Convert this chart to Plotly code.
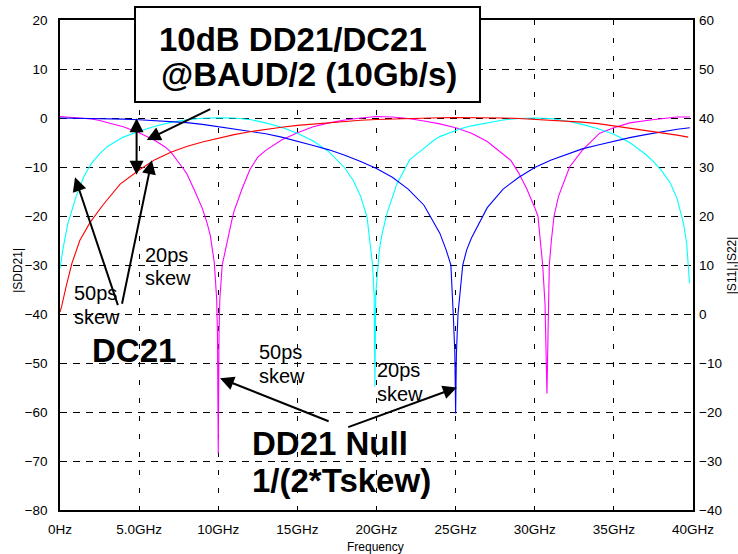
import plotly.graph_objects as go

# ---- data (dB vs GHz) ----
# DD21, 50 ps skew (magenta)
f_dd50 = [0, 1, 2, 2.5, 3, 4, 5, 6, 6.64, 7, 7.69, 8, 8.53, 9, 9.3, 9.5, 9.75, 9.9, 9.95, 10.0,
          10.05, 10.1, 10.25, 10.5, 10.85, 11, 11.5, 12, 12.5, 13, 13.5, 14, 15, 16, 17, 18, 19,
          20, 21, 22, 23, 24, 25, 26, 27, 28, 28.5, 29, 29.5, 30, 30.2, 30.5, 30.65, 30.77,
          30.85, 30.92, 31.05, 31.22, 31.5, 32.2, 33, 34.1, 35, 36, 37.3, 38, 39, 39.8]
v_dd50 = [0.3, 0.1, -0.2, -0.5, -0.9, -1.8, -3.0, -4.6, -5.9, -6.9, -9.9, -11.3, -15.0, -18.5, -21.5, -24.0, -29.5, -37.0, -44.0, -68.4,
          -44.0, -37.0, -30.0, -26.0, -21.0, -19.0, -14.5, -10.5, -8.0, -6.6, -5.5, -4.5, -3.0, -1.8, -1.0, -0.4, 0.0,
          0.3, 0.2, -0.1, -0.6, -1.2, -2.0, -3.1, -4.8, -7.3, -8.7, -11.3, -14.5, -18.3, -20.0, -30.0, -38.0, -56.2,
          -40.0, -30.0, -25.0, -20.0, -16.0, -10.0, -6.6, -3.1, -2.0, -1.0, -0.4, -0.1, 0.2, 0.2]

# DC21, 50 ps skew (cyan)
f_dc50 = [0, 0.2, 0.5, 1, 1.5, 2, 2.5, 3, 4, 5, 6, 7, 8, 9, 10, 11, 12, 12.64, 13, 14, 14.75, 15, 16,
          16.86, 17, 18, 18.54, 19, 19.4, 19.64, 19.75, 19.85, 19.9, 19.95, 20.1, 20.18, 20.33, 20.65,
          21.28, 22.1, 23, 23.6, 24, 25.3, 26, 26.5, 27, 28, 29, 30, 31, 32, 33, 34, 35, 36, 37, 37.5,
          38, 38.56, 39, 39.2, 39.4, 39.6, 39.78]
v_dc50 = [-30.7, -26.5, -21.5, -16.2, -12.0, -9.2, -7.3, -5.8, -3.9, -2.7, -1.7, -0.9, -0.35, -0.05, 0.05, 0.0, -0.3, -0.75, -1.0, -1.9, -2.8, -3.1, -4.7,
          -6.5, -6.9, -10.2, -12.8, -16.0, -20.2, -26.9, -30.0, -36.0, -54.8, -36.0, -30.0, -26.9, -24.0, -19.6,
          -13.5, -8.5, -6.2, -4.6, -3.8, -2.2, -1.6, -1.3, -0.9, -0.4, -0.1, 0.0, -0.1, -0.6, -1.3, -2.2, -3.3, -5.0, -7.4, -8.9,
          -10.7, -13.2, -16.5, -18.8, -21.5, -25.6, -33.7]

# DD21, 20 ps skew (blue)
f_dd20 = [0, 1, 2, 3, 4, 5, 6, 7, 8, 9, 10, 11, 12, 13, 14, 15, 16, 17, 18, 19, 20, 21, 22, 23, 24,
          24.4, 24.7, 24.85, 24.95, 25.0, 25.05, 25.15, 25.45, 25.7, 26, 27, 28, 29, 30, 31, 32, 33,
          34, 35, 36, 37, 38, 39, 39.8]
v_dd20 = [0.0, -0.02, -0.06, -0.12, -0.22, -0.35, -0.5, -0.7, -0.95, -1.3, -1.75, -2.2, -2.7, -3.2, -3.9, -4.7, -5.6, -6.5, -7.6, -8.9, -10.3, -12.1, -14.5, -17.8, -23.5,
          -26.9, -30.0, -40.0, -48.0, -60.3, -48.0, -40.0, -30.0, -26.9, -24.5, -18.3, -14.5, -12.1, -10.1, -8.6, -7.4, -6.3,
          -5.5, -4.7, -4.0, -3.4, -2.8, -2.3, -2.0]

# DC21, 20 ps skew (red)
f_dc20 = [0, 0.1, 0.4, 0.75, 1.25, 1.9, 2.75, 3.8, 5, 6, 7, 8, 9, 10, 11, 12, 13, 14, 15, 16, 17, 18,
          19, 20, 21, 22, 23, 24, 25, 26, 27, 28, 29, 30, 31, 32, 33, 34, 35, 36, 37, 38, 39, 39.7]
v_dc20 = [-39.6, -38.5, -34.2, -29.7, -25.0, -21.3, -17.6, -13.5, -10.6, -8.5, -7.0, -5.8, -4.9, -4.1, -3.4, -2.8, -2.3, -1.9, -1.5, -1.2, -0.9, -0.65,
          -0.45, -0.3, -0.18, -0.08, 0.0, 0.05, 0.1, 0.1, 0.05, 0.0, -0.1, -0.25, -0.4, -0.6, -0.85, -1.15, -1.6, -2.0, -2.5, -3.0, -3.5, -3.9]

x_tickvals = [0, 5, 10, 15, 20, 25, 30, 35, 40]
x_ticktext = ["0Hz", "5.0GHz", "10GHz", "15GHz", "20GHz", "25GHz", "30GHz", "35GHz", "40GHz"]
y_left_ticks = [20, 10, 0, -10, -20, -30, -40, -50, -60, -70, -80]
y_right_ticks = [60, 50, 40, 30, 20, 10, 0, -10, -20, -30, -40]

FONT = "Liberation Sans, Arial, sans-serif"

fig = go.Figure()
for fx, fy, col in [(f_dd50, v_dd50, "#ff00ff"), (f_dc50, v_dc50, "#00ffff"),
                    (f_dd20, v_dd20, "#0000ff"), (f_dc20, v_dc20, "#ff0000")]:
    fig.add_trace(go.Scatter(x=fx, y=fy, mode="lines", line=dict(color=col, width=1.1),
                             showlegend=False, hoverinfo="skip"))

# empty trace so the right-hand axis is drawn
fig.add_trace(go.Scatter(x=[None], y=[None], yaxis="y2", showlegend=False, hoverinfo="skip"))

fig.update_layout(
    width=738, height=554, autosize=False,
    margin=dict(l=60, r=45, t=20, b=44),
    paper_bgcolor="white", plot_bgcolor="white",
    font=dict(family=FONT, size=13.5, color="black"),
    xaxis=dict(range=[0, 40], tickvals=x_tickvals, ticktext=x_ticktext, automargin=False,
               showgrid=True, gridcolor="black", gridwidth=1, griddash="5px,13px",
               showline=True, linecolor="black", linewidth=1.5, mirror=True,
               zeroline=False, ticks="", ticklabelstandoff=6),
    yaxis=dict(range=[-80, 20], tickvals=y_left_ticks, automargin=False,
               showgrid=True, gridcolor="black", gridwidth=1, griddash="7px,6px",
               showline=True, linecolor="black", linewidth=1.5, mirror=True,
               zeroline=False, ticks="", ticklabelstandoff=8),
    yaxis2=dict(range=[-40, 60], tickvals=y_right_ticks, overlaying="y", side="right",
                automargin=False, showgrid=False, zeroline=False, showline=False,
                ticks="", ticklabelstandoff=5),
)

# axis titles
axis_font = dict(family=FONT, size=12, color="black")
fig.add_annotation(text="Frequency", xref="paper", yref="paper", x=0.499, y=-0.0755,
                   xanchor="center", yanchor="middle", showarrow=False, font=axis_font)
fig.add_annotation(text="|SDD21|", xref="paper", yref="paper", x=-0.0664, y=0.49,
                   xanchor="center", yanchor="middle", textangle=-90, showarrow=False, font=axis_font)
fig.add_annotation(text="|S11|,|S22|", xref="paper", yref="paper", x=1.062, y=0.50,
                   xanchor="center", yanchor="middle", textangle=-90, showarrow=False, font=axis_font)

# boxed heading
fig.add_shape(type="rect", xref="paper", yref="paper", x0=0.1185, x1=0.6635, y0=0.8327, y1=1.0265,
              line=dict(color="black", width=2), fillcolor="white", layer="above")

big = dict(family=FONT, size=33, color="black")
small = dict(family=FONT, size=20, color="black")


def label(txt, x, y, font, bold=False):
    fig.add_annotation(text=f"<b>{txt}</b>" if bold else txt, xref="paper", yref="paper",
                       x=x, y=y, xanchor="left", yanchor="middle", showarrow=False, font=font)


label("10dB DD21/DC21", 0.1532, 0.9592, big, True)
label("@BAUD/2 (10Gb/s)", 0.1564, 0.8878, big, True)
label("DC21", 0.0474, 0.3245, big, True)
label("DD21 Null", 0.3002, 0.1347, big, True)
label("1/(2*Tskew)", 0.3002, 0.0612, big, True)
label("50ps", 0.019, 0.4429, small)
label("skew", 0.019, 0.3929, small)
label("20ps", 0.1311, 0.5204, small)
label("skew", 0.1311, 0.4735, small)
label("50ps", 0.3107, 0.3224, small)
label("skew", 0.3107, 0.2735, small)
label("20ps", 0.4976, 0.2867, small)
label("skew", 0.4976, 0.2367, small)


def arrow(tail, tip, both=False):
    fig.add_annotation(x=tip[0], y=tip[1], ax=tail[0], ay=tail[1], xref="x", yref="y",
                       axref="x", ayref="y", text="", showarrow=True, arrowhead=2,
                       startarrowhead=2, arrowsize=1.4, startarrowsize=1.4, arrowwidth=2,
                       arrowcolor="black", arrowside="end+start" if both else "end")


arrow((9.59, 1.98), (5.48, -4.49))
arrow((4.84, 0.27), (4.84, -11.6), both=True)
arrow((3.69, -38.5), (0.95, -12.1))
arrow((3.9, -38.2), (5.8, -8.6))
arrow((17.07, -62.0), (10.11, -53.1))
arrow((18.12, -63.2), (25.08, -55.0))

fig.write_html("out.html")
